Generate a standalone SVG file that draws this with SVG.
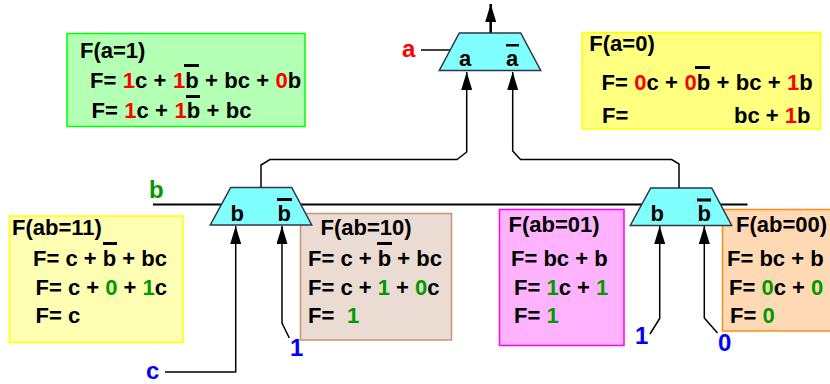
<svg xmlns="http://www.w3.org/2000/svg" width="830" height="384" viewBox="0 0 830 384">
<style>
text{font-family:"Liberation Sans",Arial,sans-serif;font-weight:bold;font-size:22px;fill:#000}
.r{fill:#f00}.g{fill:#090}.u{fill:#00f}
.w{word-spacing:.3px}
.lbl{font-size:24px}
.mux{fill:#80ffff;stroke:#334;stroke-width:1.5}
.c{fill:none;stroke:#000;stroke-width:1.5}
.bar{fill:#000}
</style>
<defs>
<marker id="a" markerUnits="userSpaceOnUse" markerWidth="19" markerHeight="12" refX="18" refY="5.500" orient="auto"><path d="M0 0L18 5.500L0 11z" fill="#000"/></marker></defs>
<g id="connectors">
<path class="c" style="stroke-width:2" d="M153 204.500H747.500"/>
<path class="c" style="stroke-width:2.500" d="M490.700 33V4" marker-end="url(#a)"/>
<path class="c" d="M421 50H451"/>
<path class="c" d="M261 188V165L270 159.500H457L466.700 152V72" marker-end="url(#a)"/>
<path class="c" d="M679 188V164L671.700 159.500H520.500L512.700 151V72" marker-end="url(#a)"/>
<path class="c" d="M165 372H235.700V226" marker-end="url(#a)"/>
<path class="c" d="M289.300 338L282 323V226" marker-end="url(#a)"/>
<path class="c" d="M650 334L659.700 318.500V226" marker-end="url(#a)"/>
<path class="c" d="M717.500 333L704.300 318V226" marker-end="url(#a)"/>
</g>
<g id="box-a1"><rect x="67" y="33.500" width="238" height="93" fill="#b3ffb3" stroke="#0f0" stroke-width="1.500"/>
<text x="80" y="58">F(a=1)</text>
<text class="w" x="90" y="88">F= <tspan class="r">1</tspan>c + <tspan class="r">1</tspan>b + bc + <tspan class="r">0</tspan>b</text>
<text class="w" x="91.500" y="118">F= <tspan class="r">1</tspan>c + <tspan class="r">1</tspan>b + bc</text>
<rect class="bar" x="184" y="64" width="15" height="3"/><rect class="bar" x="186" y="95" width="14" height="3"/></g>
<g id="box-a0"><rect x="582" y="32.500" width="238.500" height="96.500" fill="#ffff80" stroke="#ff0" stroke-width="1.500"/>
<text x="589.300" y="50.500">F(a=0)</text>
<text class="w" x="601.500" y="90">F= <tspan class="r">0</tspan>c + <tspan class="r">0</tspan>b + bc + <tspan class="r">1</tspan>b</text>
<text x="602" y="123">F=</text><text x="734" y="123">bc + <tspan class="r">1</tspan>b</text>
<rect class="bar" x="695" y="66" width="15" height="3"/></g>
<g id="box-ab11"><rect x="9.500" y="216" width="173.500" height="126.500" fill="#ffffb3" stroke="#ff0" stroke-width="1.500"/>
<text x="12" y="235">F(ab=11)</text>
<text x="33" y="266">F= c + b + bc</text>
<text x="35.500" y="295">F= c + <tspan class="g">0</tspan> + <tspan class="g">1</tspan>c</text>
<text x="35.500" y="323">F= c</text>
<rect class="bar" x="103" y="242" width="14" height="3"/></g>
<g id="box-ab10"><rect x="300.500" y="213.500" width="151" height="126.500" fill="#eadbd3" stroke="#c09878" stroke-width="1.500"/>
<text x="320.500" y="235">F(ab=10)</text>
<text x="308" y="266">F= c + b + bc</text>
<text x="308" y="295">F= c + <tspan class="g">1</tspan> + <tspan class="g">0</tspan>c</text>
<text x="308" y="323">F= <tspan class="g" x="347">1</tspan></text>
<rect class="bar" x="377" y="242" width="15" height="3"/></g>
<g id="box-ab01"><rect x="499.500" y="209.500" width="124.500" height="136" fill="#ffb3ff" stroke="#f0f" stroke-width="1.500"/>
<text x="508.500" y="232">F(ab=01)</text>
<text x="511" y="266">F= bc + b</text>
<text x="514" y="295">F= <tspan class="g">1</tspan>c + <tspan class="g">1</tspan></text>
<text x="514" y="323">F= <tspan class="g">1</tspan></text></g>
<g id="box-ab00"><rect x="722.500" y="209.500" width="110" height="121.500" fill="#ffd9b3" stroke="#ff8c1a" stroke-width="1.500"/>
<text x="736" y="232">F(ab=00)</text>
<text x="727" y="266">F= bc + b</text>
<text x="729" y="295">F= <tspan class="g">0</tspan>c + <tspan class="g">0</tspan></text>
<text x="730" y="323">F= <tspan class="g">0</tspan></text></g>
<g id="mux-a"><path class="mux" d="M459.300 33H520.700L540.700 70.500H439.300z"/>
<text x="459" y="66">a</text><text x="506" y="66">a</text><rect class="bar" x="506" y="44" width="13" height="2.500"/></g>
<g id="mux-b-left"><path class="mux" d="M230.700 187.500H291.700L311.700 225H210.300z"/>
<text x="230.500" y="221">b</text><text x="277.500" y="221">b</text><rect class="bar" x="277" y="198" width="15" height="3"/></g>
<g id="mux-b-right"><path class="mux" d="M650.700 188H711.700L731.700 225.500H630.300z"/>
<text x="650.500" y="221">b</text><text x="697.500" y="221">b</text><rect class="bar" x="697" y="198.500" width="14" height="3"/></g>
<g id="labels">
<text class="r lbl" x="402" y="57">a</text>
<text class="g lbl" x="149" y="198">b</text>
<text class="u lbl" x="146" y="379">c</text>
<text class="u lbl" x="290" y="356">1</text>
<text class="u lbl" x="635" y="344">1</text>
<text class="u lbl" x="718" y="351">0</text>
</g>
</svg>
